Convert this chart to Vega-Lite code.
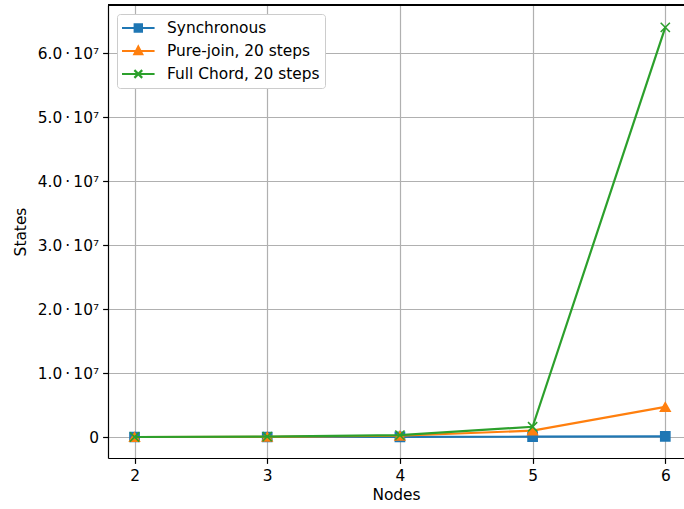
{
  "$schema": "https://vega.github.io/schema/vega-lite/v6.json",
  "width": 576,
  "height": 453,
  "autosize": {"type": "none"},
  "padding": {"left": 108, "top": 5, "right": 0, "bottom": 51},
  "background": "white",
  "config": {
    "font": "DejaVu Sans",
    "view": {"stroke": null},
    "axis": {
      "labelFont": "DejaVu Sans",
      "labelFontSize": 15.4,
      "labelColor": "black",
      "titleFont": "DejaVu Sans",
      "titleFontSize": 15.4,
      "titleFontWeight": "normal",
      "titleColor": "black",
      "tickColor": "black",
      "tickSize": 5.4,
      "tickWidth": 1.2,
      "domainColor": "black",
      "domainWidth": 1.2,
      "gridColor": "#b0b0b0",
      "gridWidth": 1.2,
      "grid": true
    }
  },
  "data": {
    "values": [
      {"nodes": 2, "states": 20, "series": "Synchronous"},
      {"nodes": 3, "states": 500, "series": "Synchronous"},
      {"nodes": 4, "states": 8000, "series": "Synchronous"},
      {"nodes": 5, "states": 50000, "series": "Synchronous"},
      {"nodes": 6, "states": 100000, "series": "Synchronous"},
      {"nodes": 2, "states": 2000, "series": "Pure-join, 20 steps"},
      {"nodes": 3, "states": 30000, "series": "Pure-join, 20 steps"},
      {"nodes": 4, "states": 200000, "series": "Pure-join, 20 steps"},
      {"nodes": 5, "states": 1000000, "series": "Pure-join, 20 steps"},
      {"nodes": 6, "states": 4700000, "series": "Pure-join, 20 steps"},
      {"nodes": 2, "states": 3000, "series": "Full Chord, 20 steps"},
      {"nodes": 3, "states": 60000, "series": "Full Chord, 20 steps"},
      {"nodes": 4, "states": 300000, "series": "Full Chord, 20 steps"},
      {"nodes": 5, "states": 1600000, "series": "Full Chord, 20 steps"},
      {"nodes": 6, "states": 64000000, "series": "Full Chord, 20 steps"}
    ]
  },
  "encoding": {
    "x": {
      "field": "nodes", "type": "quantitative",
      "scale": {"domain": [1.8, 6.141], "nice": false, "zero": false},
      "axis": {"values": [2, 3, 4, 5, 6], "format": "d", "title": "Nodes", "labelPadding": 5, "titlePadding": 4}
    },
    "y": {
      "field": "states", "type": "quantitative",
      "scale": {"domain": [-3280000, 67500000], "nice": false, "zero": false},
      "axis": {
        "values": [0, 10000000, 20000000, 30000000, 40000000, 50000000, 60000000],
        "labelExpr": "datum.value == 0 ? '0' : format(datum.value / 10000000, '.1f') + '\u2009·\u200910⁷'",
        "title": "States", "labelPadding": 4, "titlePadding": 9
      }
    }
  },
  "layer": [
    {
      "transform": [{"filter": "datum.series === 'Synchronous'"}],
      "mark": {"type": "line", "strokeWidth": 2.2, "clip": true},
      "encoding": {
        "color": {
          "field": "series", "type": "nominal",
          "scale": {
            "domain": ["Synchronous", "Pure-join, 20 steps", "Full Chord, 20 steps"],
            "range": ["#1f77b4", "#ff7f0e", "#2ca02c"]
          },
          "legend": {
            "title": null,
            "orient": "top-left",
            "offset": 9,
            "fillColor": "white",
            "strokeColor": "#cccccc",
            "cornerRadius": 3,
            "padding": 5,
            "labelFont": "DejaVu Sans",
            "labelFontSize": 15.4,
            "labelColor": "black",
            "symbolSize": 225,
            "symbolOffset": 7.3,
            "labelOffset": 19.7,
            "rowPadding": 5,
            "symbolStrokeWidth": 2.2,
            "encode": {
              "symbols": {
                "update": {
                  "shape": {"signal": "datum.value === 'Synchronous' ? 'M-2.17,0H2.17M-0.48,-0.48H0.48V0.48H-0.48Z' : datum.value === 'Pure-join, 20 steps' ? 'M-2.17,0H2.17M0,-0.58L0.52,0.42H-0.52Z' : 'M-2.17,0H2.17M-0.52,-0.52L0.52,0.52M-0.52,0.52L0.52,-0.52'"},
                  "fill": {"signal": "scale('color', datum.value)"},
                  "stroke": {"signal": "scale('color', datum.value)"},
                  "opacity": {"value": 1}
                }
              }
            }
          }
        }
      }
    },
    {
      "transform": [{"filter": "datum.series === 'Synchronous'"}],
      "mark": {"type": "point", "shape": "square", "filled": true, "color": "#1f77b4", "stroke": "#1f77b4", "strokeWidth": 1.5, "size": 85, "opacity": 1}
    },
    {
      "transform": [{"filter": "datum.series === 'Pure-join, 20 steps'"}],
      "mark": {"type": "line", "strokeWidth": 2.2, "clip": true},
      "encoding": {"color": {"field": "series", "type": "nominal"}}
    },
    {
      "transform": [{"filter": "datum.series === 'Pure-join, 20 steps'"}],
      "mark": {"type": "point", "shape": "triangle-up", "filled": true, "color": "#ff7f0e", "stroke": "#ff7f0e", "strokeWidth": 1.5, "size": 95, "opacity": 1}
    },
    {
      "transform": [{"filter": "datum.series === 'Full Chord, 20 steps'"}],
      "mark": {"type": "line", "strokeWidth": 2.2, "clip": true},
      "encoding": {"color": {"field": "series", "type": "nominal"}}
    },
    {
      "transform": [{"filter": "datum.series === 'Full Chord, 20 steps'"}],
      "mark": {"type": "point", "shape": "M-1,-1L1,1M-1,1L1,-1", "filled": false, "color": "#2ca02c", "stroke": "#2ca02c", "strokeWidth": 1.6, "size": 85, "opacity": 1}
    },
    {
      "mark": {"type": "rule", "color": "black", "strokeWidth": 1.2},
      "encoding": {"y": {"datum": 67500000, "type": "quantitative"}, "x": null}
    }
  ]
}
